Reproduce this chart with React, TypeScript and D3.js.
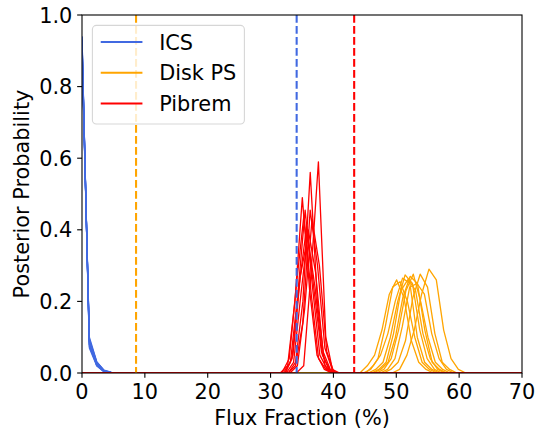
import React from 'react';
import * as d3 from 'd3';

// ---------- data ----------
const BIN = 1.17; // spacing of histogram points (flux fraction %)
const X_MAX = 70;
const X_TICKS = [0, 10, 20, 30, 40, 50, 60, 70];
const Y_TICKS = [0, 0.2, 0.4, 0.6, 0.8, 1.0];

const SERIES_NAMES = ['ICS', 'Disk PS', 'Pibrem'];
const SERIES_COLORS = ['#4169e1', '#ffa500', '#ff0000'];
const VLINE_X = [34.15, 8.6, 43.3]; // dashed reference lines (ICS, Disk PS, Pibrem colours)

// ICS curves: all start at 0
const ICS_STARTS = [0, 0, 0, 0, 0, 0, 0, 0, 0, 0];
const ICS_VALUES = [
  [0.92, 0.09, 0.03, 0.006, 0.001, 0],
  [0.93, 0.08, 0.025, 0.004, 0.001, 0],
  [0.91, 0.1, 0.032, 0.007, 0.002, 0],
  [0.94, 0.075, 0.022, 0.004, 0, 0],
  [0.92, 0.085, 0.028, 0.005, 0.001, 0],
  [0.93, 0.09, 0.02, 0.003, 0, 0],
  [0.9, 0.095, 0.03, 0.008, 0.002, 0],
  [0.93, 0.08, 0.024, 0.005, 0.001, 0],
  [0.92, 0.088, 0.027, 0.006, 0.001, 0],
  [0.94, 0.07, 0.02, 0.004, 0.001, 0],
];

// Disk PS curves
const DISK_STARTS = [49.35, 45.55, 46.85, 47.95, 44.21, 44.75, 46.35, 45.15, 47.45, 46.05];
const DISK_VALUES = [
  [0, 0.01, 0.05, 0.12, 0.22, 0.29, 0.26, 0.12, 0.04, 0.01, 0],
  [0, 0.01, 0.03, 0.1, 0.2, 0.274, 0.25, 0.12, 0.04, 0.01, 0],
  [0, 0.01, 0.04, 0.12, 0.23, 0.276, 0.2, 0.1, 0.03, 0.01, 0],
  [0, 0.01, 0.03, 0.09, 0.21, 0.276, 0.24, 0.11, 0.03, 0.01, 0],
  [0, 0.02, 0.05, 0.12, 0.22, 0.26, 0.21, 0.09, 0.03, 0.01, 0],
  [0, 0.01, 0.04, 0.13, 0.24, 0.255, 0.2, 0.1, 0.03, 0.01, 0],
  [0, 0.01, 0.03, 0.1, 0.21, 0.27, 0.25, 0.12, 0.03, 0.01, 0],
  [0, 0.02, 0.05, 0.11, 0.2, 0.265, 0.25, 0.1, 0.03, 0.01, 0],
  [0, 0.01, 0.04, 0.13, 0.24, 0.25, 0.22, 0.11, 0.04, 0.01, 0],
  [0, 0.01, 0.03, 0.11, 0.23, 0.262, 0.23, 0.11, 0.04, 0.01, 0],
];

// Pibrem curves
const PIBREM_STARTS = [34.1, 32.8, 31.54, 31.99, 32.79, 32.24, 32.49, 31.79, 33.09, 32.39];
const PIBREM_VALUES = [
  [0, 0.02, 0.28, 0.59, 0.1, 0],
  [0, 0.03, 0.2, 0.56, 0.19, 0.02, 0],
  [0, 0.02, 0.2, 0.49, 0.23, 0.05, 0.01, 0],
  [0, 0.03, 0.22, 0.455, 0.24, 0.05, 0.01, 0],
  [0, 0.02, 0.14, 0.455, 0.3, 0.07, 0.01, 0],
  [0, 0.04, 0.25, 0.41, 0.23, 0.06, 0.01, 0],
  [0, 0.03, 0.22, 0.4, 0.28, 0.06, 0.01, 0],
  [0, 0.04, 0.25, 0.44, 0.22, 0.04, 0.01, 0],
  [0, 0.02, 0.18, 0.43, 0.3, 0.06, 0],
  [0, 0.05, 0.27, 0.38, 0.24, 0.05, 0.01, 0],
];

const GROUPS = [
  { starts: ICS_STARTS, values: ICS_VALUES },
  { starts: DISK_STARTS, values: DISK_VALUES },
  { starts: PIBREM_STARTS, values: PIBREM_VALUES },
];

// ---------- layout ----------
const W = 554;
const H = 430;
const M = { left: 82, right: 522, top: 15, bottom: 373 };
const FS = 20.83;
const FONT = '"DejaVu Sans", sans-serif';
const TICK = 4.86;

function toPoints(start: number, vals: number[]): [number, number][] {
  const pts: [number, number][] = [];
  if (start > 0) pts.push([0, 0]);
  vals.forEach((v, i) => pts.push([start + i * BIN, v]));
  const lastX = start + (vals.length - 1) * BIN;
  if (lastX < X_MAX) pts.push([X_MAX, 0]);
  return pts;
}

export default function App() {
  const x = d3.scaleLinear().domain([0, X_MAX]).range([M.left, M.right]);
  const y = d3.scaleLinear().domain([0, 1]).range([M.bottom, M.top]);
  const line = d3
    .line<[number, number]>()
    .x((d) => x(d[0]))
    .y((d) => y(d[1]));

  const fmt = d3.format('.1f');

  // legend geometry (matplotlib-like)
  const lgX = M.left + 10.4;
  const lgY = M.top + 10.4;
  const rowH = 20.4;
  const rowGap = 10.4;
  const pad = 8.33;
  const lgW = 152;
  const lgH = pad * 2 + rowH * 3 + rowGap * 2;

  return (
    <svg
      width={W}
      height={H}
      style={{ position: 'absolute', left: 0, top: 0, background: '#fff' }}
      fontFamily={FONT}
    >
      <defs>
        <clipPath id="plotclip">
          <rect x={M.left} y={M.top} width={M.right - M.left} height={M.bottom - M.top} />
        </clipPath>
      </defs>
      <rect x={0} y={0} width={W} height={H} fill="#fff" />
      <g clipPath="url(#plotclip)">
        {GROUPS.map((g, gi) =>
          g.values.map((vals, i) => (
            <path
              key={`${gi}-${i}`}
              d={line(toPoints(g.starts[i], vals)) || ''}
              fill="none"
              stroke={SERIES_COLORS[gi]}
              strokeWidth={1.3}
              strokeLinejoin="round"
            />
          ))
        )}
        {VLINE_X.map((vx, i) => (
          <line
            key={`v${i}`}
            x1={x(vx)}
            x2={x(vx)}
            y1={M.top}
            y2={M.bottom}
            stroke={SERIES_COLORS[i]}
            strokeWidth={2.08}
            strokeDasharray="7.7,3.3"
          />
        ))}
      </g>

      {/* spines */}
      <rect
        x={M.left}
        y={M.top}
        width={M.right - M.left}
        height={M.bottom - M.top}
        fill="none"
        stroke="#000"
        strokeWidth={1.1}
      />

      {/* x ticks */}
      {X_TICKS.map((t) => (
        <g key={`xt${t}`}>
          <line x1={x(t)} x2={x(t)} y1={M.bottom} y2={M.bottom + TICK} stroke="#000" strokeWidth={1.1} />
          <text x={x(t)} y={M.bottom + TICK + 4.86 + 15.8} textAnchor="middle" fontSize={FS} fill="#000">
            {t}
          </text>
        </g>
      ))}
      {/* y ticks */}
      {Y_TICKS.map((t) => (
        <g key={`yt${t}`}>
          <line x1={M.left - TICK} x2={M.left} y1={y(t)} y2={y(t)} stroke="#000" strokeWidth={1.1} />
          <text x={M.left - TICK - 4.86} y={y(t) + 7.6} textAnchor="end" fontSize={FS} fill="#000">
            {fmt(t)}
          </text>
        </g>
      ))}

      <text x={(M.left + M.right) / 2} y={424.5} textAnchor="middle" fontSize={FS} fill="#000">
        Flux Fraction (%)
      </text>
      <text
        transform={`translate(29,${(M.top + M.bottom) / 2}) rotate(-90)`}
        textAnchor="middle"
        fontSize={FS}
        fill="#000"
      >
        Posterior Probability
      </text>

      {/* legend */}
      <rect
        x={lgX}
        y={lgY}
        width={lgW}
        height={lgH}
        rx={4}
        ry={4}
        fill="#fff"
        fillOpacity={0.8}
        stroke="#cccccc"
        strokeOpacity={0.8}
        strokeWidth={1.1}
      />
      {SERIES_NAMES.map((name, i) => {
        const base = lgY + pad + i * (rowH + rowGap) + 15.8;
        const ly = base - 7.6;
        return (
          <g key={name}>
            <line x1={lgX + pad} x2={lgX + pad + 41.7} y1={ly} y2={ly} stroke={SERIES_COLORS[i]} strokeWidth={2.08} />
            <text x={lgX + pad + 41.7 + 16.7} y={base} fontSize={FS} fill="#000">
              {name}
            </text>
          </g>
        );
      })}
    </svg>
  );
}
